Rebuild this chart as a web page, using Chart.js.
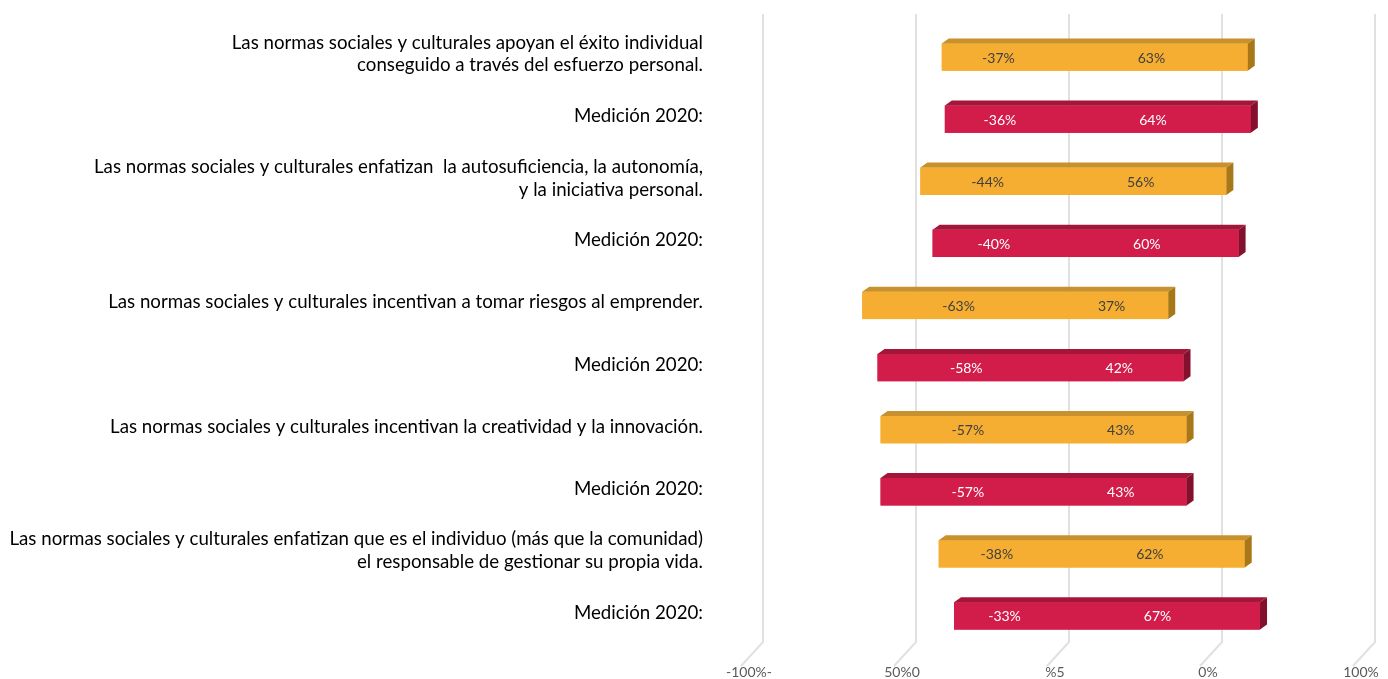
<!DOCTYPE html>
<html lang="es">
<head>
<meta charset="utf-8">
<title>Normas sociales y culturales</title>
<script src="https://cdn.jsdelivr.net/npm/chart.js@4.4.1/dist/chart.umd.min.js"></script>
<style>
  html, body { margin: 0; padding: 0; background: #ffffff; }
  #wrap { width: 1388px; height: 679px; position: relative; }
</style>
</head>
<body>
<div id="wrap"><canvas id="wykres"></canvas></div>
<script>
'use strict';

/* ---------- dane ---------- */
var kategorie = [
  ['Las normas sociales y culturales apoyan el éxito individual', 'conseguido a través del esfuerzo personal.'],
  'Medición 2020:',
  ['Las normas sociales y culturales enfatizan  la autosuficiencia, la autonomía,', 'y la iniciativa personal.'],
  'Medición 2020:',
  'Las normas sociales y culturales incentivan a tomar riesgos al emprender.',
  'Medición 2020:',
  'Las normas sociales y culturales incentivan la creatividad y la innovación.',
  'Medición 2020:',
  ['Las normas sociales y culturales enfatizan que es el individuo (más que la comunidad)', 'el responsable de gestionar su propia vida.'],
  'Medición 2020:'
];
var wartosciNeg = [-37, -36, -44, -40, -63, -58, -57, -57, -38, -33];
var wartosciPoz = [63, 64, 56, 60, 37, 42, 43, 43, 62, 67];
var etykietyOsi = ['-100%-', '50%0', '%5', '0%', '100%'];

/* ---------- kolory ---------- */
var ZOLTY = '#f5ae31', ZOLTY_GORA = '#c9912b', ZOLTY_BOK = '#a87818';
var CZERW = '#d21c4a', CZERW_GORA = '#a3163a', CZERW_BOK = '#84102d';
var GLEB_X = 7, GLEB_Y = 5;   // glebokosc efektu 3D

function jestObecny(i) { return i % 2 === 0; }
var koloryFront = kategorie.map(function (k, i) { return jestObecny(i) ? ZOLTY : CZERW; });

var FONT = 'Lato, "Open Sans", sans-serif';

// siatka w perspektywie (tylna sciana + skos do podlogi)
var siatka3d = {
  id: 'siatka3d',
  beforeDatasetsDraw: function (chart) {
    var ctx = chart.ctx, sx = chart.scales.x;
    ctx.save();
    ctx.strokeStyle = '#e1e1e1';
    ctx.lineWidth = 2;
    sx.ticks.forEach(function (t) {
      var x = sx.getPixelForValue(t.value) + 14;
      ctx.beginPath();
      ctx.moveTo(x, 14);
      ctx.lineTo(x, 642);
      ctx.lineTo(x - 22, 666);
      ctx.stroke();
    });
    ctx.restore();
  }
};

// przod (bez szwu na zerze), gorna i boczna sciana slupkow + etykiety wartosci
var slupki3d = {
  id: 'slupki3d',
  afterDatasetsDraw: function (chart) {
    var ctx = chart.ctx;
    var neg = chart.getDatasetMeta(0).data;
    var poz = chart.getDatasetMeta(1).data;
    ctx.save();
    for (var i = 0; i < neg.length; i++) {
      var lewy = neg[i].x, prawy = poz[i].x;
      var gora = poz[i].y - poz[i].height / 2, dol = poz[i].y + poz[i].height / 2;
      ctx.fillStyle = koloryFront[i];
      ctx.fillRect(lewy, gora, prawy - lewy, dol - gora);
      ctx.fillStyle = jestObecny(i) ? ZOLTY_GORA : CZERW_GORA;
      ctx.beginPath();
      ctx.moveTo(lewy, gora);
      ctx.lineTo(lewy + GLEB_X, gora - GLEB_Y);
      ctx.lineTo(prawy + GLEB_X, gora - GLEB_Y);
      ctx.lineTo(prawy, gora);
      ctx.closePath();
      ctx.fill();
      ctx.fillStyle = jestObecny(i) ? ZOLTY_BOK : CZERW_BOK;
      ctx.beginPath();
      ctx.moveTo(prawy, gora);
      ctx.lineTo(prawy + GLEB_X, gora - GLEB_Y);
      ctx.lineTo(prawy + GLEB_X, dol - GLEB_Y);
      ctx.lineTo(prawy, dol);
      ctx.closePath();
      ctx.fill();
    }
    // etykiety w srodku segmentow
    ctx.font = '14px ' + FONT;
    ctx.textAlign = 'center';
    ctx.textBaseline = 'middle';
    [0, 1].forEach(function (d) {
      var dane = chart.data.datasets[d].data;
      chart.getDatasetMeta(d).data.forEach(function (el, i) {
        ctx.fillStyle = jestObecny(i) ? '#404040' : '#ffffff';
        ctx.fillText(dane[i] + '%', (el.x + el.base) / 2, el.y + 1);
      });
    });
    ctx.restore();
  }
};

new Chart(document.getElementById('wykres'), {
  type: 'bar',
  data: {
    labels: kategorie,
    datasets: [
      { label: 'neg', data: wartosciNeg, backgroundColor: koloryFront, borderWidth: 0 },
      { label: 'poz', data: wartosciPoz, backgroundColor: koloryFront, borderWidth: 0 }
    ]
  },
  options: {
    indexAxis: 'y',
    responsive: true,
    maintainAspectRatio: false,
    animation: false,
    layout: { padding: { top: 26, right: 27, left: 0, bottom: 0 } },
    plugins: { legend: { display: false }, tooltip: { enabled: false } },
    scales: {
      x: {
        stacked: true,
        min: -100,
        max: 100,
        grid: { display: false, drawTicks: false },
        border: { display: false },
        afterFit: function (s) { s.height = 32; s.paddingLeft = 0; s.paddingRight = 0; },
        ticks: {
          stepSize: 50,
          padding: 17,
          color: '#595959',
          font: { family: FONT, size: 14 },
          maxRotation: 0,
          callback: function (v, idx) { return etykietyOsi[idx]; }
        }
      },
      y: {
        stacked: true,
        grid: { display: false, drawTicks: false },
        border: { display: false },
        afterFit: function (s) { s.width = 749; s.paddingTop = 0; s.paddingBottom = 0; },
        ticks: {
          padding: 46,
          labelOffset: -3,
          color: '#000000',
          font: { family: FONT, size: 18.7, lineHeight: 1.22 }
        }
      }
    },
    datasets: { bar: { barPercentage: 0.44, categoryPercentage: 1 } }
  },
  plugins: [siatka3d, slupki3d]
});
</script>
</body>
</html>
